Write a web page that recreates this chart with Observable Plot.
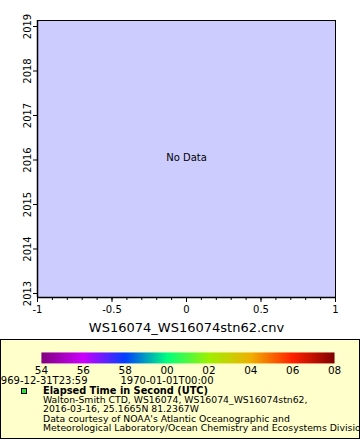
<!DOCTYPE html>
<html><head><meta charset="utf-8">
<script src="https://cdn.jsdelivr.net/npm/d3@7"></script>
<script src="https://cdn.jsdelivr.net/npm/@observablehq/plot@0.6"></script>
<style>
body{margin:0;background:#fff;font-family:"DejaVu Sans",sans-serif;}
#wrap{position:relative;width:360px;height:440px;overflow:hidden;}
#main{position:absolute;left:0;top:0;}
#legend{position:absolute;left:0;top:339px;width:358px;height:98px;background:#ffffcc;border:1px solid #000;overflow:hidden;}
#cbar{position:absolute;left:-1px;top:0;}
.dl{position:absolute;font-size:10px;top:35px;white-space:nowrap;}
#sq{position:absolute;left:20px;top:48px;width:4px;height:4px;background:#33dd33;border:1px solid #000;}
#txt{position:absolute;left:42px;top:46px;font-size:9.3px;line-height:9.2px;white-space:nowrap;}
#txt b{font-size:9.8px;}
</style></head>
<body><div id="wrap"><div id="main"></div><div id="legend"><div id="cbar"></div></div></div>
<script>
const xTicks = [-1, -0.5, 0, 0.5, 1];
const xMinor = [-1,-0.9,-0.8,-0.7,-0.6,-0.5,-0.4,-0.3,-0.2,-0.1,0,0.1,0.2,0.3,0.4,0.5,0.6,0.7,0.8,0.9,1];
const yTicks = [2013, 2014, 2015, 2016, 2017, 2018, 2019];
const xTitle = "WS16074_WS16074stn62.cnv";
const noDataLabel = "No Data";
const cbarTicks = [-6, -4, -2, 0, 2, 4, 6, 8];
const cbarColors = ["#800080", "#cc00ff", "#0040ff", "#00ff80", "#a0f000", "#f0b000", "#ff2000", "#800000"];
const dateLabels = ["1969-12-31T23:59", "1970-01-01T00:00"];
const dateLabelPos = [-6, 0];
const legendTitle = "Elapsed Time in Second (UTC)";
const legendLines = [
  "Walton-Smith CTD, WS16074, WS16074_WS16074stn62,",
  "2016-03-16, 25.1665N 81.2367W",
  "Data courtesy of NOAA's Atlantic Oceanographic and",
  "Meteorological Laboratory/Ocean Chemistry and Ecosystems Division"
];

const main = Plot.plot({
  width: 360, height: 337,
  marginLeft: 37, marginRight: 25, marginTop: 20, marginBottom: 40,
  style: {fontFamily: "DejaVu Sans", fontSize: "10px", background: "white", color: "#000"},
  x: {domain: [-1, 1]},
  y: {domain: [2012.91, 2019.135]},
  marks: [
    Plot.frame({fill: "#ccccff", stroke: "none"}),
    Plot.axisX({ticks: xMinor, tickSize: 3, tickFormat: () => "", label: null}),
    Plot.axisX({ticks: xTicks, tickSize: 5, tickPadding: 3, tickFormat: d => String(d), label: null, fontSize: 10}),
    Plot.axisY({ticks: yTicks, tickSize: 4, tickPadding: 3, tickRotate: -90, tickFormat: d => String(d), label: null, fontSize: 10}),
    Plot.ruleX([-1], {stroke: "#000", strokeWidth: 1.5}),
    Plot.ruleX([1], {stroke: "#000", strokeWidth: 1}),
    Plot.ruleY([2012.91], {stroke: "#000", strokeWidth: 1.5}),
    Plot.ruleY([2019.135], {stroke: "#000", strokeWidth: 1}),
    Plot.text([noDataLabel], {frameAnchor: "middle", text: d => d, fontSize: 10, dy: -1}),
    Plot.text([xTitle], {frameAnchor: "bottom", text: d => d, fontSize: 13, dy: 34})
  ]
});
document.getElementById("main").appendChild(main);

const fmt = d => String(((d % 60) + 60) % 60).padStart(2, "0");
const cbar = Plot.plot({
  width: 360, height: 42,
  marginLeft: 41, marginRight: 25, marginTop: 12, marginBottom: 19,
  style: {fontFamily: "DejaVu Sans", fontSize: "10px", background: "transparent", color: "#000", overflow: "visible"},
  x: {domain: [-6, 8]},
  y: {domain: [0, 1], axis: null},
  color: {type: "linear", domain: d3.range(cbarColors.length).map(i => -6 + 14 * i / (cbarColors.length - 1)), range: cbarColors},
  marks: [
    Plot.raster({x1: -6, x2: 8, y1: 0, y2: 1, width: 300, height: 1, fill: (x, y) => x, imageRendering: "auto"}),
    Plot.axisX({ticks: cbarTicks, tickSize: 0, tickPadding: 3, tickFormat: fmt, label: null, fontSize: 10.5})
  ]
});
document.getElementById("cbar").appendChild(cbar);

const legend = document.getElementById("legend");
const xs = d3.scaleLinear().domain([-6, 8]).range([40, 334]);
dateLabels.forEach((t, i) => {
  const el = document.createElement("div");
  el.className = "dl";
  el.textContent = t;
  legend.appendChild(el);
  el.style.left = (xs(dateLabelPos[i]) - el.offsetWidth / 2) + "px";
});
const sq = document.createElement("div"); sq.id = "sq"; legend.appendChild(sq);
const txt = document.createElement("div"); txt.id = "txt";
txt.innerHTML = "<b>" + legendTitle + "</b><br>" + legendLines.join("<br>");
legend.appendChild(txt);
</script></body></html>
